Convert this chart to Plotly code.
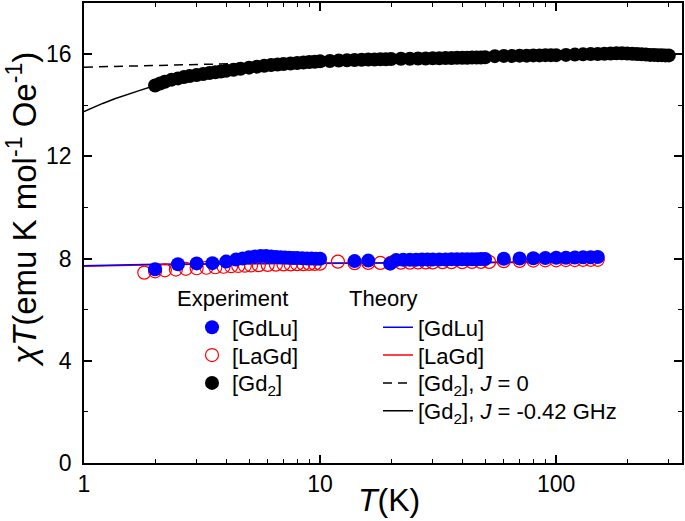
import plotly.graph_objects as go

# ---------------- data ----------------
T_gd2 = [2.0, 2.1, 2.2, 2.35, 2.5, 2.65, 2.8, 3.0, 3.2, 3.4, 3.6, 3.8, 4.0, 4.3, 4.6,
         5.0, 5.4, 5.8, 6.2, 6.6, 7.0, 7.5, 8.0, 8.5, 9.0, 9.5, 10, 11, 12, 13, 14, 15,
         16, 17, 18, 19, 20, 22, 24, 26, 28, 30, 32, 34, 36, 38, 40, 42, 44, 46, 48, 50,
         55, 60, 65, 70, 75, 80, 85, 90, 95, 100, 110, 120, 130, 140, 150, 160, 170, 180,
         190, 200, 210, 220, 230, 240, 250, 260, 270, 280, 290, 300]
chi_gd2 = [14.77, 14.85, 14.92, 15.0, 15.05, 15.1, 15.14, 15.18, 15.22, 15.26, 15.29, 15.32, 15.35, 15.39, 15.43,
           15.47, 15.51, 15.54, 15.57, 15.59, 15.61, 15.63, 15.65, 15.67, 15.69, 15.7, 15.72, 15.73, 15.75, 15.76, 15.77, 15.78,
           15.79, 15.79, 15.8, 15.8, 15.81, 15.82, 15.82, 15.83, 15.83, 15.84, 15.84, 15.85, 15.85, 15.86, 15.86, 15.86, 15.87, 15.87, 15.87, 15.88,
           15.92, 15.93, 15.93, 15.94, 15.94, 15.95, 15.95, 15.96, 15.96, 15.96, 15.97, 15.98, 15.99, 16.0, 16.0, 16.01, 16.02, 16.03,
           16.03, 16.02, 16.01, 16.0, 15.99, 15.98, 15.97, 15.97, 15.96, 15.96, 15.95, 15.95]

T_gdlu = [2.0, 2.5, 3.0, 3.5, 4.0, 4.4, 4.7, 5.0, 5.3, 5.6, 5.9, 6.2, 6.5, 6.8, 7.1, 7.4, 7.7,
          8.0, 8.4, 8.8, 9.2, 9.6, 10.0, 14.0, 16.0, 19.8, 21, 22.5, 24, 25.5, 27, 28.5, 30, 32,
          34, 36, 38, 40, 42, 44, 46, 48, 50, 60, 70, 80, 90, 100, 110, 120, 130, 140, 150]
chi_gdlu = [7.58, 7.78, 7.81, 7.82, 7.88, 7.96, 8.0, 8.05, 8.08, 8.1, 8.1, 8.08, 8.06, 8.05, 8.04, 8.03, 8.02,
            8.02, 8.01, 8.0, 8.0, 7.99, 7.99, 7.9, 7.92, 7.8, 7.94, 7.95, 7.95, 7.95, 7.96, 7.96, 7.96, 7.96,
            7.96, 7.97, 7.97, 7.97, 7.97, 7.97, 7.97, 7.98, 7.98, 7.99, 8.0, 8.01, 8.02, 8.03, 8.03, 8.04, 8.05, 8.05, 8.06]

T_lagd = [1.8, 2.0, 2.2, 2.45, 2.7, 3.0, 3.3, 3.6, 3.9, 4.2, 4.5, 4.8, 5.1, 5.5, 6.0, 6.5, 7.0,
          7.5, 8.0, 8.5, 9.0, 9.5, 10.0, 11.9, 14, 16, 18, 20, 22, 24, 26, 28, 30, 33, 36, 40,
          44, 48, 52, 60, 70, 80, 90, 100, 110, 120, 130, 140, 150]
chi_lagd = [7.45, 7.5, 7.54, 7.57, 7.6, 7.62, 7.64, 7.66, 7.68, 7.7, 7.71, 7.72, 7.73, 7.74, 7.75, 7.76, 7.77,
            7.77, 7.78, 7.78, 7.79, 7.79, 7.8, 7.88, 7.82, 7.83, 7.83, 7.84, 7.84, 7.84, 7.85, 7.85, 7.85, 7.86, 7.86, 7.86,
            7.87, 7.87, 7.87, 7.9, 7.91, 7.92, 7.93, 7.93, 7.94, 7.94, 7.95, 7.95, 7.95]

T_theory = [1.0, 1.2, 1.5, 2.0, 3.0, 5.0, 10, 20, 50, 100]
chi_th_gdlu = [7.72, 7.74, 7.76, 7.78, 7.79, 7.8, 7.82, 7.84, 7.86, 7.87]
chi_th_lagd = [7.70, 7.72, 7.74, 7.76, 7.78, 7.79, 7.81, 7.83, 7.85, 7.86]

T_gd2_th = [1.0, 1.1, 1.2, 1.35, 1.5, 1.7, 2.0, 2.5, 3.0, 4.0, 5.0, 7.0, 10, 20, 50, 100, 300]
chi_gd2_j0 = [15.49, 15.5, 15.51, 15.52, 15.53, 15.55, 15.57, 15.59, 15.6, 15.62, 15.64, 15.67, 15.7, 15.74, 15.78, 15.8, 15.82]
chi_gd2_j = [13.75, 13.92, 14.07, 14.25, 14.4, 14.56, 14.77, 15.0, 15.15, 15.33, 15.45, 15.58, 15.68, 15.76, 15.8, 15.82, 15.84]

x_tickvals = [1, 10, 100]
x_ticktext = ["1", "10", "100"]
y_tickvals = [0, 4, 8, 12, 16]
y_ticktext = ["0", "4", "8", "12", "16"]

FONT = "Liberation Sans, Arial, sans-serif"

# plot area in pixels (for placing legends / annotations)
PX_L, PX_R, PX_T, PX_B = 84, 682, 1, 463.3


def px_x(px):
    return (px - PX_L) / (PX_R - PX_L)


def px_y(py):
    return (PX_B - py) / (PX_B - PX_T)


fig = go.Figure()

# theory curves
fig.add_trace(go.Scatter(x=T_gd2_th, y=chi_gd2_j0, mode="lines", name="[Gd<sub>2</sub>], <i>J</i> = 0",
                         line=dict(color="black", width=1.5, dash="9px,6px"), legend="legend6"))
fig.add_trace(go.Scatter(x=T_gd2_th, y=chi_gd2_j, mode="lines", name="[Gd<sub>2</sub>], <i>J</i> = -0.42 GHz",
                         line=dict(color="black", width=1.5), legend="legend7"))
fig.add_trace(go.Scatter(x=T_theory, y=chi_th_lagd, mode="lines", name="[LaGd]",
                         line=dict(color="#ff0000", width=1.5), legend="legend5"))
fig.add_trace(go.Scatter(x=T_theory, y=chi_th_gdlu, mode="lines", name="[GdLu]",
                         line=dict(color="#0000ff", width=1.5), legend="legend4"))

# experiments
fig.add_trace(go.Scatter(x=T_lagd, y=chi_lagd, mode="markers", name="[LaGd]",
                         marker=dict(symbol="circle-open", size=13, color="#ff0000", line=dict(width=1.2)),
                         legend="legend2"))
fig.add_trace(go.Scatter(x=T_gdlu, y=chi_gdlu, mode="markers", name="[GdLu]",
                         marker=dict(symbol="circle", size=14, color="#0000ff"),
                         legend="legend"))
fig.add_trace(go.Scatter(x=T_gd2, y=chi_gd2, mode="markers", name="[Gd<sub>2</sub>]",
                         marker=dict(symbol="circle", size=14, color="black"),
                         legend="legend3"))

axis_common = dict(showline=True, linecolor="black", linewidth=1.5, mirror="ticks",
                   ticks="inside", tickcolor="black", tickwidth=1.5, ticklen=8,
                   showgrid=False, zeroline=False,
                   tickfont=dict(family=FONT, size=23, color="black"))

fig.update_xaxes(type="log", range=[0, 2.533], tickvals=x_tickvals, ticktext=x_ticktext,
                 minor=dict(ticks="inside", ticklen=4, tickcolor="black", tickwidth=1.2,
                            tickvals=[2, 3, 4, 5, 6, 7, 8, 9, 20, 30, 40, 50, 60, 70, 80, 90, 200, 300]),
                 ticklabelstandoff=0, **axis_common)
fig.update_yaxes(range=[0, 18], tickvals=y_tickvals, ticktext=y_ticktext,
                 minor=dict(ticks="inside", ticklen=4, tickcolor="black", tickwidth=1.2, dtick=2),
                 ticklabelstandoff=6, **axis_common)

legend_common = dict(font=dict(family=FONT, size=22, color="black"), bgcolor="rgba(0,0,0,0)",
                     borderwidth=0, yanchor="middle", xanchor="left", itemsizing="trace")

EXP_TEXT_X, TH_TEXT_X = 232, 418
ROW_Y = [327, 355, 383, 411]

fig.update_layout(
    width=685, height=521,
    margin=dict(l=84, r=3, t=1, b=57.7),
    paper_bgcolor="white", plot_bgcolor="white",
    showlegend=True,
    legend=dict(x=px_x(EXP_TEXT_X - 40), y=px_y(ROW_Y[0]), **legend_common),
    legend2=dict(x=px_x(EXP_TEXT_X - 40), y=px_y(ROW_Y[1]), **legend_common),
    legend3=dict(x=px_x(EXP_TEXT_X - 40), y=px_y(ROW_Y[2]), **legend_common),
    legend4=dict(x=px_x(TH_TEXT_X - 40), y=px_y(ROW_Y[0]), **legend_common),
    legend5=dict(x=px_x(TH_TEXT_X - 40), y=px_y(ROW_Y[1]), **legend_common),
    legend6=dict(x=px_x(TH_TEXT_X - 40), y=px_y(ROW_Y[2]), **legend_common),
    legend7=dict(x=px_x(TH_TEXT_X - 40), y=px_y(ROW_Y[3]), **legend_common),
    annotations=[
        dict(text="<i>χT</i>(emu K mol<sup>-1</sup> Oe<sup>-1</sup>)", xref="paper", yref="paper",
             x=px_x(22), y=px_y(209), xanchor="center", yanchor="middle", textangle=-90, showarrow=False,
             font=dict(family=FONT, size=33, color="black")),
        dict(text="<i>T</i>(K)", xref="paper", yref="paper", x=px_x(389), y=px_y(500),
             xanchor="center", yanchor="middle", showarrow=False,
             font=dict(family=FONT, size=32, color="black")),
        dict(text="Experiment", xref="paper", yref="paper", x=px_x(175), y=px_y(298),
             xanchor="left", yanchor="middle", showarrow=False,
             font=dict(family=FONT, size=22, color="black")),
        dict(text="Theory", xref="paper", yref="paper", x=px_x(347), y=px_y(298),
             xanchor="left", yanchor="middle", showarrow=False,
             font=dict(family=FONT, size=22, color="black")),
    ],
)

fig.write_html("out.html", config={"displayModeBar": False},
               post_script="document.body.style.margin='0';document.body.style.padding='0';")
